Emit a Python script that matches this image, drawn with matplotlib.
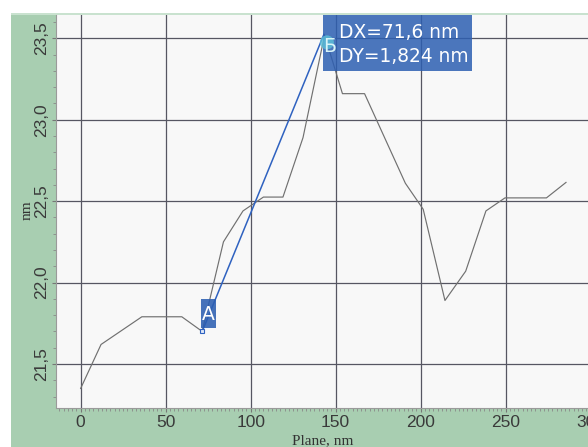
import matplotlib
matplotlib.use("Agg")
import matplotlib.pyplot as plt
import matplotlib.transforms as mtransforms
from matplotlib.patches import Rectangle, Circle
from matplotlib.ticker import MultipleLocator, FixedLocator

# ---- data ----
plane_nm = [0, 12, 36, 59.5, 71.5, 84, 95.5, 107.5, 119, 130.8, 143.5, 154, 167,
            191, 201.5, 214.3, 226.5, 238.4, 249.6, 274, 285.5]
height_nm = [21.35, 21.62, 21.79, 21.79, 21.70, 22.25, 22.44, 22.525, 22.525, 22.89,
             23.52, 23.16, 23.16, 22.61, 22.45, 21.89, 22.07, 22.44, 22.52, 22.52, 22.615]
point_a = (71.5, 21.70)
point_b = (143.1, 23.524)
label_a = "A"
label_b = "Б"
measure_text = "DX=71,6 nm\nDY=1,824 nm"
xticks = [0, 50, 100, 150, 200, 250, 300]
yticks = [21.5, 22.0, 22.5, 23.0, 23.5]
ytick_labels = ["21,5", "22,0", "22,5", "23,0", "23,5"]
x_label = "Plane, nm"
y_label = "nm"

W, H = 588, 447
fig = plt.figure(figsize=(W / 100, H / 100), dpi=100, facecolor="white")

# green panel background
fig.patches.append(Rectangle((11 / W, 0), 1, 433 / H, transform=fig.transFigure,
                             facecolor="#a8ceb1", edgecolor="none", zorder=-5))
fig.patches.append(Rectangle((11 / W, 432 / H), 1, 1.5 / H, transform=fig.transFigure,
                             facecolor="#c9e2cf", edgecolor="none", zorder=-4))

ax_l, ax_r, ax_t, ax_b = 56, 607.65, 15, 408.3
ax = fig.add_axes([ax_l / W, (H - ax_b) / H, (ax_r - ax_l) / W, (ax_b - ax_t) / H])
ax.set_facecolor("#f8f8f8")
ax.set_xlim(-14.5, 310)
ax.set_ylim(21.228, 23.643)

# grid
ax.xaxis.set_major_locator(FixedLocator(xticks))
ax.yaxis.set_major_locator(FixedLocator(yticks))
ax.set_yticklabels(ytick_labels, rotation=90, va="center")
ax.xaxis.set_minor_locator(MultipleLocator(2.5))
ax.yaxis.set_minor_locator(MultipleLocator(0.1))
ax.grid(True, which="major", color="#565662", lw=0.9, zorder=1)
ax.set_axisbelow(True)

for s in ["top", "right"]:
    ax.spines[s].set_visible(False)
for s in ["left", "bottom"]:
    ax.spines[s].set_color("#9a9a9a")
    ax.spines[s].set_linewidth(0.8)

ax.tick_params(which="major", length=3, width=0.8, color="#777777", pad=2,
               labelcolor="#3a3a3a", labelsize=12.5)
ax.tick_params(which="minor", length=2, width=0.6, color="#888888")
for lab in ax.get_xticklabels() + ax.get_yticklabels():
    lab.set_fontfamily(["Liberation Sans", "DejaVu Sans"])

# profile line
ax.plot(plane_nm, height_nm, color="#707070", lw=0.85, zorder=3)

# measurement line
ax.plot([point_a[0], point_b[0]], [point_a[1], point_b[1]], color="#2f62c0", lw=1.1, zorder=4)
ax.plot([point_a[0]], [point_a[1]], marker="s", ms=3, mfc="#dfe8f8", mec="#2f62c0",
        mew=0.8, zorder=5)

box_color = "#2d5fb2"

# label A box (offsets in pixels from the point)
trans_a = mtransforms.ScaledTranslation(point_a[0], point_a[1], ax.transData)
ax.add_patch(Rectangle((-1, 3), 15, 29, transform=trans_a, facecolor=box_color,
                       edgecolor="none", alpha=0.88, zorder=6))
ax.text(6.5, 17, label_a, transform=trans_a, color="white", ha="center", va="center",
        fontsize=13.5, family=["DejaVu Sans"], zorder=7)

# label B box
trans_b = mtransforms.ScaledTranslation(point_b[0], point_b[1], ax.transData)
ax.add_patch(Rectangle((-1, -37), 149, 58, transform=trans_b, facecolor=box_color,
                       edgecolor="none", alpha=0.85, zorder=6))
ax.add_patch(Circle((3, -8), 7, transform=trans_b, facecolor="#5cc0d8",
                    edgecolor="none", alpha=0.8, zorder=6.5))
ax.text(6, -12, label_b, transform=trans_b, color="#d8f4f8", ha="center", va="center",
        fontsize=13.5, family=["DejaVu Sans"], zorder=7)
ax.text(15, -10, measure_text, transform=trans_b, color="white", ha="left", va="center",
        fontsize=13.4, family=["DejaVu Sans"], linespacing=1.3, zorder=7)

# axis labels
fig.text(323 / W, 1 - 434 / H, x_label, ha="center", va="top", fontsize=11,
         family=["Liberation Serif", "DejaVu Serif"], color="#333333")
fig.text(27 / W, 1 - 210 / H, y_label, ha="center", va="center", rotation=90, fontsize=11,
         family=["Liberation Serif", "DejaVu Serif"], color="#333333")

fig.savefig("out.png", dpi=100, facecolor=fig.get_facecolor())
